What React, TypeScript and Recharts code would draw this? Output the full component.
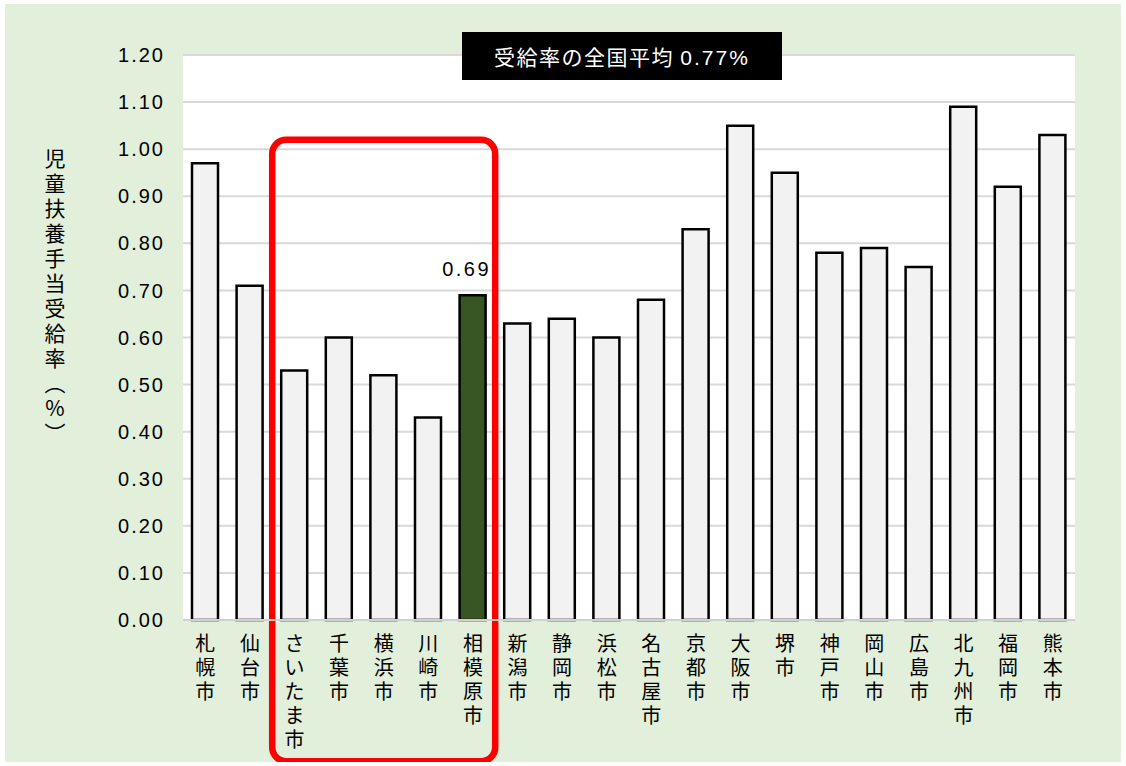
import React from 'react';
import { BarChart, Bar, XAxis, YAxis, CartesianGrid, Cell, LabelList, ReferenceArea } from 'recharts';

// 政令指定都市別 児童扶養手当受給率（%）
const cities = [
  '札幌市', '仙台市', 'さいたま市', '千葉市', '横浜市', '川崎市', '相模原市',
  '新潟市', '静岡市', '浜松市', '名古屋市', '京都市', '大阪市', '堺市',
  '神戸市', '岡山市', '広島市', '北九州市', '福岡市', '熊本市',
];
const rates = [
  0.97, 0.71, 0.53, 0.6, 0.52, 0.43, 0.69,
  0.63, 0.64, 0.6, 0.68, 0.83, 1.05, 0.95,
  0.78, 0.79, 0.75, 1.09, 0.92, 1.03,
];
const yTicks = [0, 0.1, 0.2, 0.3, 0.4, 0.5, 0.6, 0.7, 0.8, 0.9, 1.0, 1.1, 1.2];
const focusCity = '相模原市';
const groupStart = 'さいたま市';
const groupEnd = '相模原市';
const nationalAverage = 0.77;

const data = cities.map((name, i) => ({ name, rate: rates[i] }));

const FONT = '"Noto Sans CJK JP", "Noto Sans", sans-serif';
const NUM_FONT = '"Liberation Sans", Arial, sans-serif';

// city names stacked one character per line
const VerticalTick = (props: any) => {
  const { x, y, payload } = props;
  const chars: string[] = Array.from(payload.value as string);
  return (
    <g>
      {chars.map((c, i) => (
        <text
          key={i}
          x={x}
          y={y + 23 + i * 24}
          textAnchor="middle"
          fontSize={20}
          fontFamily={FONT}
          fill="#000"
        >
          {c}
        </text>
      ))}
    </g>
  );
};

const App: React.FC = () => {
  return (
    <div
      style={{
        position: 'absolute',
        left: 5,
        top: 4,
        width: 1116,
        height: 758,
        background: '#e2efda',
        fontFamily: FONT,
      }}
    >
      <BarChart
        width={1116}
        height={758}
        data={data}
        margin={{ top: 51, right: 46, bottom: 0, left: 0 }}
        barSize={26}
      >
        <CartesianGrid vertical={false} stroke="#d9d9d9" strokeWidth={2} fill="#ffffff" />
        <XAxis
          dataKey="name"
          height={142}
          interval={0}
          tickLine={false}
          axisLine={{ stroke: '#d0d0d0', strokeWidth: 2 }}
          tick={<VerticalTick />}
        />
        <YAxis
          width={178}
          domain={[0, 1.2]}
          ticks={yTicks}
          tickFormatter={(v: number) => v.toFixed(2)}
          tickLine={false}
          axisLine={false}
          tickSize={0}
          tickMargin={18}
          tick={{ fill: '#000', fontSize: 20, fontFamily: NUM_FONT, letterSpacing: 2 }}
        />
        <Bar dataKey="rate" stroke="#000" strokeWidth={2.5} isAnimationActive={false}>
          {data.map((d) => (
            <Cell key={d.name} fill={d.name === focusCity ? '#375623' : '#f2f2f2'} />
          ))}
          <LabelList
            dataKey="rate"
            content={(p: any) => {
              if (data[p.index]?.name !== focusCity) return null;
              return (
                <text
                  x={p.x + p.width / 2 - 6}
                  y={p.y - 19}
                  textAnchor="middle"
                  fontSize={20}
                  letterSpacing={2.5}
                  fontFamily={NUM_FONT}
                  fill="#000"
                >
                  {Number(p.value).toFixed(2)}
                </text>
              );
            }}
          />
        </Bar>
        <ReferenceArea
          x1={groupStart}
          x2={groupEnd}
          y1={-0.3}
          y2={1.02}
          ifOverflow="visible"
          fill="none"
          fillOpacity={0}
          stroke="#ff0000"
          strokeWidth={6.5}
          radius={14}
        />
      </BarChart>

      <div
        style={{
          position: 'absolute',
          left: 457,
          top: 28,
          width: 320,
          height: 48,
          background: '#000',
          color: '#fff',
          fontSize: 21,
          lineHeight: '48px',
          textAlign: 'center',
          letterSpacing: 1.5,
        }}
      >
        受給率の全国平均 <span style={{ letterSpacing: 2, fontFamily: NUM_FONT }}>{nationalAverage.toFixed(2)}%</span>
      </div>

      <div
        style={{
          position: 'absolute',
          left: 35,
          top: 144,
          writingMode: 'vertical-rl',
          textOrientation: 'upright',
          fontSize: 21,
          letterSpacing: 4,
          color: '#000',
        }}
      >
        児童扶養手当受給率（%）
      </div>
    </div>
  );
};

export default App;
